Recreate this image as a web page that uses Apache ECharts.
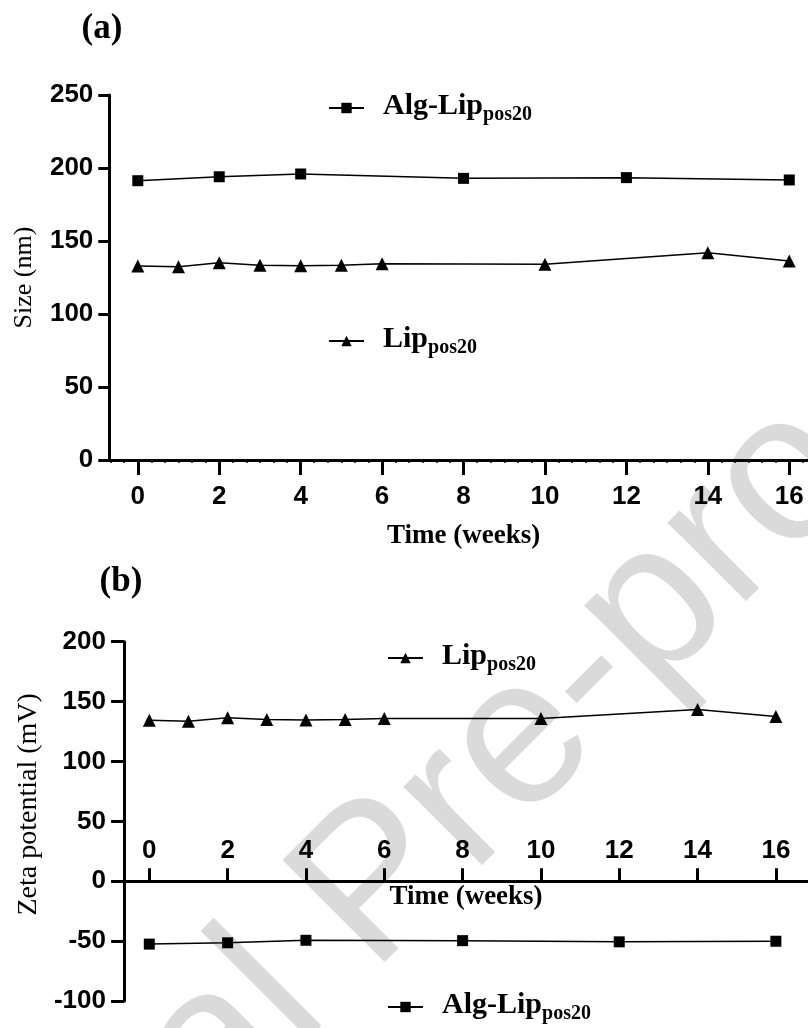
<!DOCTYPE html>
<html>
<head>
<meta charset="utf-8">
<script src="https://cdn.jsdelivr.net/npm/echarts@6/dist/echarts.min.js"></script>
<style>
  html, body { margin: 0; padding: 0; background: #fff; }
  #chart { width: 808px; height: 1028px; }
</style>
</head>
<body>
<div id="chart"></div>
<script>
// weeks
const weeksAlg = [0, 2, 4, 8, 12, 16]
const weeksLip = [0, 1, 2, 3, 4, 5, 6, 10, 14, 16]
const weekTicks = [0, 2, 4, 6, 8, 10, 12, 14, 16]
// (a) size (nm)
const sizeAlg = [191.3, 194.0, 195.9, 192.9, 193.4, 191.8]
const sizeLip = [132.9, 132.4, 135.1, 133.4, 133.1, 133.4, 134.5, 134.0, 142.0, 136.3]
// (b) zeta potential (mV)
const zetaLip = [134.4, 133.6, 136.6, 135.0, 134.7, 135.0, 135.8, 135.8, 143.3, 137.5]
const zetaAlg = [-52.5, -51.4, -49.3, -49.6, -50.6, -50.1]

const legendNames = {
  algA: ['Alg-Lip', 'pos20'],
  lipA: ['Lip', 'pos20'],
  algB: ['Alg-Lip', 'pos20'],
  lipB: ['Lip', 'pos20']
}

// minor ticks every 1/3 week on panel (a)
const minorTicks = []
for (let k = -2; k <= 49; k++) minorTicks.push(k / 3)

const sansBold = { color: '#000', fontFamily: 'Liberation Sans, Arial, sans-serif', fontWeight: 'bold', fontSize: 26 }
const serif = 'Liberation Serif, Times New Roman, serif'

function pairs(xs, ys) {
  return xs.map((x, i) => [x, ys[i]])
}

function lineSeries(name, xi, yi, xs, ys, symbol, size) {
  return {
    name, type: 'line', xAxisIndex: xi, yAxisIndex: yi,
    data: pairs(xs, ys),
    symbol, symbolSize: size,
    itemStyle: { color: '#000' },
    lineStyle: { color: '#000', width: 1.5 },
    z: 3
  }
}

function legend(name, left, top) {
  return {
    data: [name], left, top, padding: 0,
    itemWidth: 35, itemHeight: 13,
    formatter: n => '{m|' + legendNames[n][0] + '}{s|' + legendNames[n][1] + '}',
    textStyle: {
      rich: {
        m: { fontFamily: serif, fontWeight: 'bold', fontSize: 30, color: '#000', verticalAlign: 'bottom', padding: [0, 0, 4, 14] },
        s: { fontFamily: serif, fontWeight: 'bold', fontSize: 20, color: '#000', verticalAlign: 'bottom' }
      }
    }
  }
}

const axisLine = { show: true, onZero: false, lineStyle: { color: '#000', width: 3 } }
const tickStyle = { color: '#000', width: 3 }

const chart = echarts.init(document.getElementById('chart'))
chart.setOption({
  animation: false,
  backgroundColor: '#fff',
  graphic: [
    { type: 'text', x: 102, y: 29, z: 10, style: { text: '(a)', fill: '#000', font: 'bold 35px ' + serif, textAlign: 'center', textVerticalAlign: 'middle' } },
    { type: 'text', x: 121, y: 582, z: 10, style: { text: '(b)', fill: '#000', font: 'bold 35px ' + serif, textAlign: 'center', textVerticalAlign: 'middle' } },
    { type: 'text', x: 377, y: 888, z: -10, rotation: 45 * Math.PI / 180, style: { text: 'Journal Pre-proof', fill: '#dadada', font: '210px Liberation Sans, Arial, sans-serif', textAlign: 'center', textVerticalAlign: 'middle' } }
  ],
  grid: [
    { left: 109.3, top: 95, right: 0, height: 365 },
    { left: 124, top: 641.7, right: 0, height: 359.3 }
  ],
  legend: [
    legend('algA', 328, 91),
    legend('lipA', 328, 324),
    legend('lipB', 387, 641),
    legend('algB', 387, 990)
  ],
  xAxis: [
    {
      gridIndex: 0, type: 'value', min: -0.7, max: 16.46,
      axisLine: { show: true, onZero: true, lineStyle: { color: '#000', width: 3 } },
      axisTick: { show: true, customValues: weekTicks, length: 15, lineStyle: tickStyle },
      axisLabel: Object.assign({ customValues: weekTicks, margin: 24 }, sansBold),
      splitLine: { show: false },
      name: 'Time (weeks)', nameLocation: 'middle', nameGap: 63,
      nameTextStyle: { fontFamily: serif, fontWeight: 'bold', fontSize: 27, color: '#000', padding: [0, 0, 0, 10] }
    },
    {
      // zero line of panel (b): grid bottom is -100, so lift the axis by 100 units
      gridIndex: 1, type: 'value', min: -0.646, max: 16.82, offset: -359.3 / 3,
      axisLine: { show: true, onZero: false, lineStyle: { color: '#000', width: 3 } },
      axisTick: { show: true, inside: true, customValues: weekTicks, length: 13, lineStyle: tickStyle },
      axisLabel: Object.assign({ customValues: weekTicks, inside: true, margin: 17 }, sansBold),
      splitLine: { show: false },
      name: 'Time (weeks)', nameLocation: 'middle', nameGap: 0,
      nameTextStyle: { fontFamily: serif, fontWeight: 'bold', fontSize: 27, color: '#000' }
    },
    {
      // minor ticks only, panel (a)
      gridIndex: 0, type: 'value', min: -0.7, max: 16.46, position: 'bottom',
      axisLine: { show: false, onZero: false },
      axisTick: { show: true, customValues: minorTicks, length: 3, lineStyle: { color: '#000', width: 1.5 } },
      axisLabel: { show: false },
      splitLine: { show: false }
    }
  ],
  yAxis: [
    {
      gridIndex: 0, type: 'value', min: 0, max: 250, interval: 50,
      axisLine, axisTick: { show: true, length: 11, lineStyle: tickStyle },
      axisLabel: Object.assign({ margin: 16 }, sansBold),
      splitLine: { show: false },
      name: 'Size (nm)', nameLocation: 'middle', nameGap: 72,
      nameTextStyle: { fontFamily: serif, fontSize: 26, color: '#000' }
    },
    {
      gridIndex: 1, type: 'value', min: -100, max: 200, interval: 50,
      axisLine, axisTick: { show: true, length: 13, lineStyle: tickStyle },
      axisLabel: Object.assign({ margin: 18 }, sansBold),
      splitLine: { show: false },
      name: 'Zeta potential (mV)', nameLocation: 'middle', nameGap: 73,
      nameTextStyle: { fontFamily: serif, fontSize: 28, color: '#000', padding: [0, 0, 0, 34] }
    }
  ],
  series: [
    lineSeries('algA', 0, 0, weeksAlg, sizeAlg, 'rect', 11),
    lineSeries('lipA', 0, 0, weeksLip, sizeLip, 'triangle', 13),
    lineSeries('lipB', 1, 1, weeksLip, zetaLip, 'triangle', 13),
    lineSeries('algB', 1, 1, weeksAlg, zetaAlg, 'rect', 11)
  ]
})

window.addEventListener('resize', () => chart.resize())
</script>
</body>
</html>
